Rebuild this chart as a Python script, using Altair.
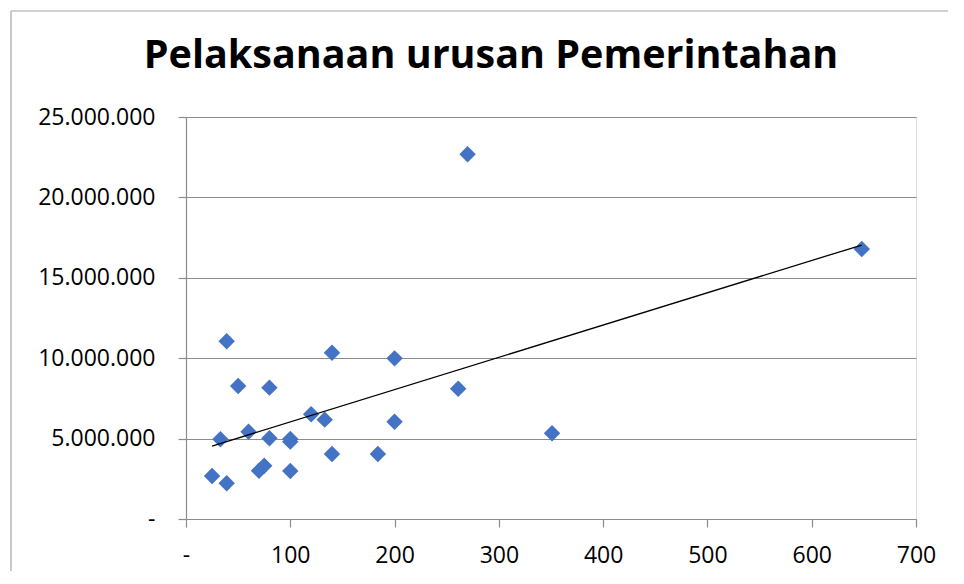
import altair as alt
import pandas as pd

TITLE = "Pelaksanaan urusan Pemerintahan"

x_vals = [25, 33, 39, 39, 50, 60, 70, 75, 80, 80, 100, 100, 100, 120, 133, 140,
          140, 184, 200, 200, 261, 270, 351, 648]
y_vals = [2670000, 4960000, 11050000, 2220000, 8270000, 5430000, 3000000, 3310000,
          8170000, 5020000, 4980000, 4810000, 2980000, 6510000, 6180000, 10340000,
          4040000, 4040000, 9990000, 6050000, 8100000, 22680000, 5330000, 16790000]

x_ticks = [0, 100, 200, 300, 400, 500, 600, 700]
y_ticks = [0, 5000000, 10000000, 15000000, 20000000, 25000000]

df = pd.DataFrame({"x": x_vals, "y": y_vals})

W, H = 730, 402
PL, PT, PR, PB = 178, 109, 32, 52
AX = "#8c8c8c"
FONT = "Open Sans"

x_scale = alt.Scale(domain=[0, 700], nice=False, zero=True)
y_scale = alt.Scale(domain=[0, 25000000], nice=False, zero=True)

x_axis = alt.Axis(values=x_ticks, title=None, grid=False, domainColor=AX, domainWidth=1.2,
                  tickColor=AX, tickSize=8, tickWidth=1.2, labelPadding=17, labelFont=FONT,
                  labelFontSize=23, labelColor="#000000", labelFlush=False, format=",d",
                  labelExpr="datum.value == 0 ? '-' : datum.label")
y_axis = alt.Axis(values=y_ticks, title=None, grid=True, gridColor=AX, gridWidth=1.2,
                  domainColor=AX, domainWidth=1.2, tickColor=AX, tickSize=8, tickWidth=1.2,
                  labelPadding=23, labelFont=FONT, labelFontSize=23, labelColor="#000000",
                  format=",d", labelExpr="datum.value == 0 ? '-' : datum.label")

points = alt.Chart(df).mark_point(shape="diamond", filled=True, size=270, color="#4472C4",
                                  opacity=1).encode(
    x=alt.X("x:Q", scale=x_scale, axis=x_axis),
    y=alt.Y("y:Q", scale=y_scale, axis=y_axis),
)

trend = alt.Chart(df).transform_regression("x", "y").mark_line(
    color="#000000", strokeWidth=1.3).encode(
    x=alt.X("x:Q", scale=x_scale),
    y=alt.Y("y:Q", scale=y_scale),
)

frame_df = pd.DataFrame({"k": [0]})
frame_left = alt.Chart(frame_df).mark_rule(color="#a6a6a6", strokeWidth=1.2).encode(
    x=alt.value(-175), y=alt.value(-106), y2=alt.value(H + PB))
frame_top = alt.Chart(frame_df).mark_rule(color="#a6a6a6", strokeWidth=1.2).encode(
    x=alt.value(-175), x2=alt.value(W + PR), y=alt.value(-106))

chart = alt.layer(points, trend, frame_left, frame_top).properties(
    width=W, height=H,
    title=alt.TitleParams(TITLE, font=FONT, fontSize=39.5, fontWeight="bold", color="#000000",
                          anchor="middle", frame="group", dx=-60, offset=0, dy=97,
                          baseline="alphabetic"),
    autosize=alt.AutoSizeParams(type="none"),
    padding={"left": PL, "top": PT, "right": PR, "bottom": PB},
).configure_view(strokeWidth=0).configure(
    locale={"number": {"decimal": ",", "thousands": ".", "grouping": [3],
                       "currency": ["", ""]}}
)

chart.save("out.html", embed_options={"renderer": "svg", "actions": False})
